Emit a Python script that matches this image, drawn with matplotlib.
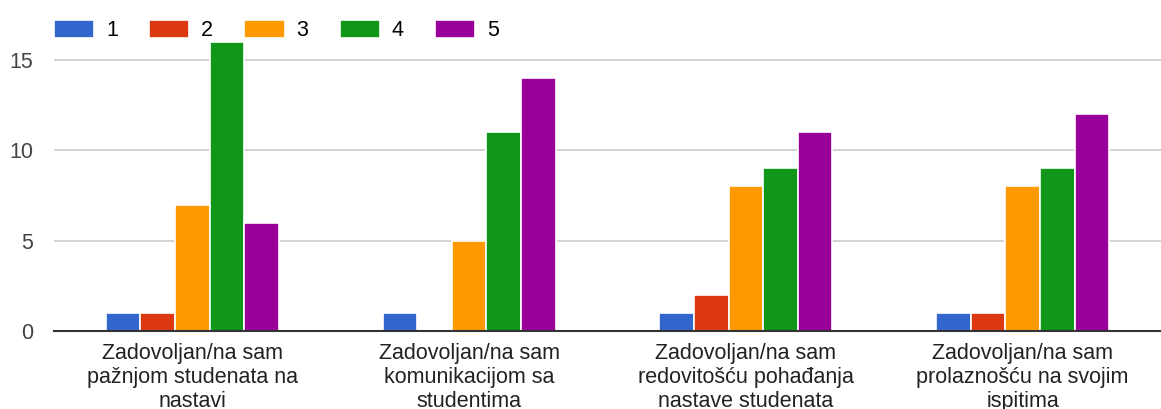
import numpy as np
import matplotlib.pyplot as plt

plt.rcParams['font.family'] = ['Liberation Sans', 'DejaVu Sans']

categories = [
    "Zadovoljan/na sam\npažnjom studenata na\nnastavi",
    "Zadovoljan/na sam\nkomunikacijom sa\nstudentima",
    "Zadovoljan/na sam\nredovitošću pohađanja\nnastave studenata",
    "Zadovoljan/na sam\nprolaznošću na svojim\nispitima",
]
series_names = ["1", "2", "3", "4", "5"]
s1 = [1, 1, 1, 1]
s2 = [1, 0, 2, 1]
s3 = [7, 5, 8, 8]
s4 = [16, 11, 9, 9]
s5 = [6, 14, 11, 12]
colors = ["#3366cc", "#dc3912", "#ff9900", "#109618", "#990099"]

fs = 15.5

fig = plt.figure(figsize=(11.61, 4.09), dpi=100)
ax = fig.add_axes([54 / 1161, (409 - 331) / 409, 1 - 54 / 1161, (331 - 22) / 409])

x = np.arange(len(categories))
w = 0.125
for i, (vals, name, c) in enumerate(zip([s1, s2, s3, s4, s5], series_names, colors)):
    ax.bar(x + (i - 2) * w, vals, width=w, color=c, edgecolor="white",
           linewidth=1.2, label=name, zorder=3)

ax.set_xlim(-0.5, len(categories) - 0.5)
ax.set_ylim(0, 17.1)
ax.set_yticks([0, 5, 10, 15])
ax.yaxis.grid(True, color="#cccccc", linewidth=1.2, zorder=0)
ax.set_xticks(x)
ax.set_xticklabels(categories, fontsize=fs, color="#222222", linespacing=1.2)
ax.tick_params(axis="x", length=0, pad=8.5)
ax.tick_params(axis="y", length=0, pad=15, labelsize=fs, labelcolor="#444444")
for s in ["top", "right", "left"]:
    ax.spines[s].set_visible(False)
ax.spines["bottom"].set_color("#333333")
ax.spines["bottom"].set_linewidth(1.5)
ax.spines["bottom"].set_zorder(4)

fig.legend(loc="upper left", bbox_to_anchor=(54 / 1161, 1 - 20 / 409), ncol=5,
           frameon=False, fontsize=fs, handlelength=1.86, handleheight=0.9,
           handletextpad=0.56, columnspacing=1.45, borderaxespad=0, borderpad=0)

fig.savefig("out.png", dpi=100)
